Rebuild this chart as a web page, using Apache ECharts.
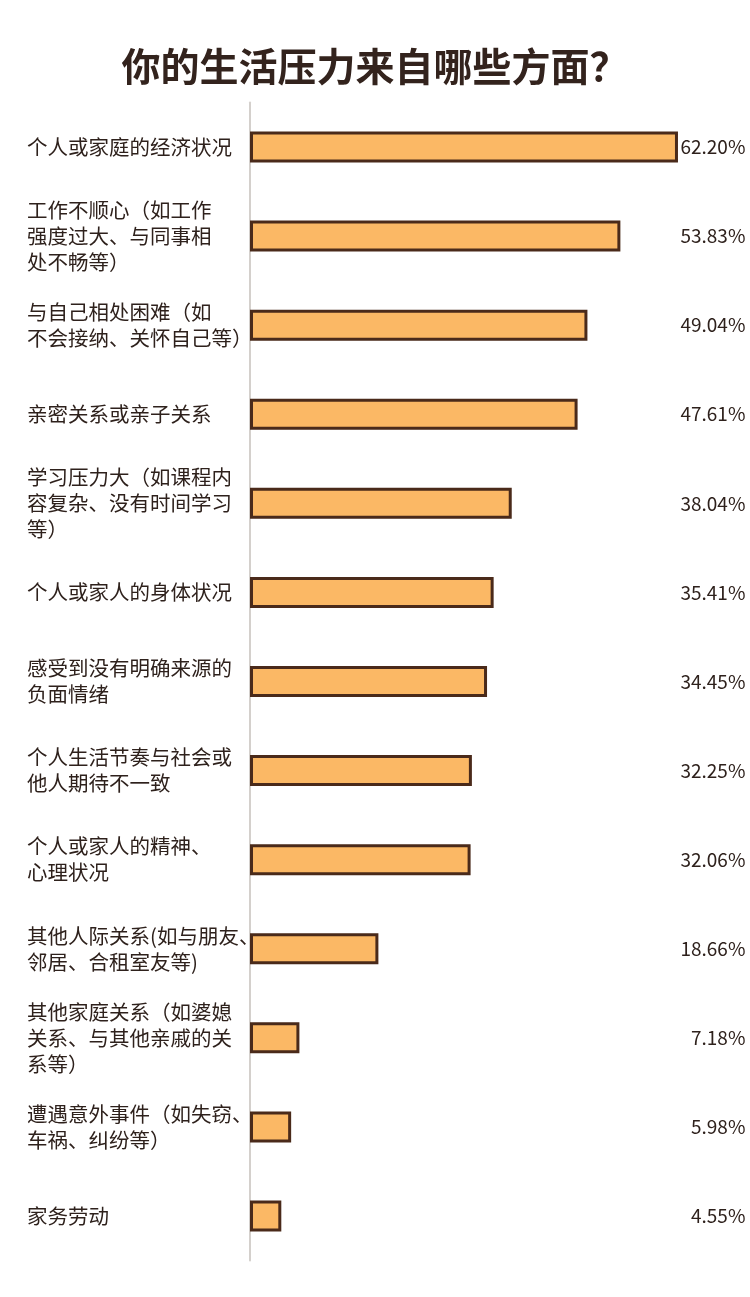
<!DOCTYPE html>
<html>
<head>
<meta charset="utf-8">
<script src="https://cdn.jsdelivr.net/npm/echarts@6/dist/echarts.min.js"></script>
<style>
html,body{margin:0;padding:0;background:#ffffff;}
#chart{width:750px;height:1297px;}
</style>
</head>
<body>
<div id="chart"></div>
<script>
var titleText = '你的生活压力来自哪些方面？';
var categories = [
  '个人或家庭的经济状况',
  '工作不顺心（如工作\n强度过大、与同事相\n处不畅等）',
  '与自己相处困难（如\n不会接纳、关怀自己等）',
  '亲密关系或亲子关系',
  '学习压力大（如课程内\n容复杂、没有时间学习\n等）',
  '个人或家人的身体状况',
  '感受到没有明确来源的\n负面情绪',
  '个人生活节奏与社会或\n他人期待不一致',
  '个人或家人的精神、\n心理状况',
  '其他人际关系(如与朋友、\n邻居、合租室友等)',
  '其他家庭关系（如婆媳\n关系、与其他亲戚的关\n系等）',
  '遭遇意外事件（如失窃、\n车祸、纠纷等）',
  '家务劳动'
];
var values = [62.20, 53.83, 49.04, 47.61, 38.04, 35.41, 34.45, 32.25, 32.06, 18.66, 7.18, 5.98, 4.55];
var axisMax = 72;
var ghost = values.map(function(){ return axisMax; });

var font = '"Noto Sans CJK SC", sans-serif';
var chart = echarts.init(document.getElementById('chart'));
chart.setOption({
  backgroundColor: '#ffffff',
  animation: false,
  title: {
    text: titleText,
    left: 'center',
    top: 42,
    textStyle: { fontFamily: font, fontSize: 39, fontWeight: 'bold', color: '#33231d' }
  },
  grid: { left: 250, right: 4.6, top: 102.5, bottom: 36.5, containLabel: false },
  xAxis: {
    type: 'value', min: 0, max: axisMax, show: false
  },
  yAxis: {
    type: 'category', data: categories, inverse: true,
    axisLine: { show: true, lineStyle: { color: '#d4d0cc', width: 2 } },
    axisTick: { show: false },
    splitLine: { show: false },
    axisLabel: {
      align: 'left', margin: 223, fontFamily: font, fontSize: 20.5,
      lineHeight: 26, color: '#2e211c'
    }
  },
  series: [
    {
      type: 'bar', data: values, barWidth: 31,
      itemStyle: { color: '#FBB865', borderColor: '#4a2a1a', borderWidth: 3 },
      z: 3
    },
    {
      type: 'bar', data: ghost, barWidth: 31, barGap: '-100%',
      itemStyle: { color: 'rgba(0,0,0,0)' },
      silent: true, z: 1,
      label: {
        show: true, position: 'insideRight', distance: 0,
        fontFamily: font, fontSize: 19, color: '#2e211c',
        formatter: function(p){ return values[p.dataIndex].toFixed(2) + '%'; }
      }
    }
  ]
});
</script>
</body>
</html>
